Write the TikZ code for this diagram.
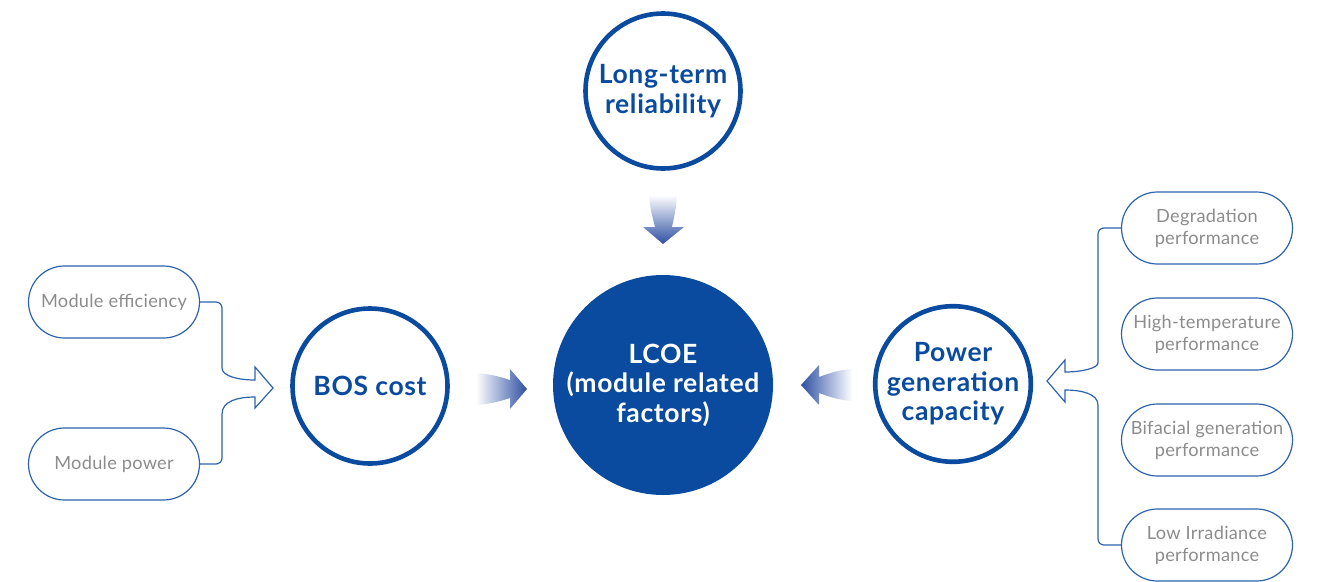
\documentclass[tikz,border=0pt]{standalone}
\usepackage{fontspec}
\setmainfont{Lato}
\newfontfamily\circfont{Lato}[LetterSpace=2.5]
\newfontfamily\pillfont{Lato}[LetterSpace=1.5]
\definecolor{mainblue}{HTML}{0A4A9F}
\definecolor{pillblue}{HTML}{2C62AE}
\definecolor{pilltext}{HTML}{8C8C8C}
\definecolor{arrowblue}{HTML}{2E4FA3}
\begin{document}
\begin{tikzpicture}[x=1pt,y=-1pt,
  bigcirc/.style={circle, draw=mainblue, line width=4.6pt, fill=white, minimum size=155pt, inner sep=0pt, align=center, text=mainblue, font=\circfont\bfseries\fontsize{26.5}{29.5}\selectfont},
  lcoestyle/.style={circle, fill=mainblue, minimum size=220pt, inner sep=0pt, align=center, text=white, font=\circfont\bfseries\fontsize{26.5}{29.5}\selectfont},
  pill/.style={draw=pillblue, line width=1.2pt, rounded corners=36pt, minimum width=171pt, minimum height=72pt, inner sep=0pt, align=center, text=pilltext, font=\pillfont\fontsize{18.2}{22}\selectfont},
  link/.style={draw=pillblue, line width=1.2pt, line join=miter},
  hshade/.style={left color=white, right color=arrowblue},
  hshadel/.style={left color=arrowblue, right color=white},
  vshade/.style={top color=white, bottom color=arrowblue}]
\useasboundingbox (0,0) rectangle (1322,581);

% main circles
\node[bigcirc] (ltr) at (663,91) {Long-term\\reliability};
\node[lcoestyle] (lcoe) at (663,385) {LCOE\\(module related\\factors)};
\node[bigcirc] (bos) at (370,386) {BOS cost};
\node[bigcirc] (pgc) at (953,384) {Power\\generation\\capacity};

% pills
\node[pill] (eff) at (114,302) {Module efficiency};
\node[pill] (pow) at (114,464) {Module power};
\node[pill] (deg) at (1207,228) {Degradation\\performance};
\node[pill] (ht) at (1207,334) {High-temperature\\performance};
\node[pill] (bif) at (1207,440) {Bifacial generation\\performance};
\node[pill] (low) at (1207,545) {Low Irradiance\\performance};

% left hollow arrow connectors
\draw[link] (eff.east) [rounded corners=6pt] -- (222,302) -- (222,362) [sharp corners]
  .. controls (222,376) and (238,380) .. (255,380) -- (255,367) -- (273,388) -- (255,408) -- (255,397)
  .. controls (238,397) and (222,401) .. (222,414) [rounded corners=6pt] -- (222,464) -- (pow.east);

% right hollow arrow connectors
\draw[link] (deg.west) [rounded corners=6pt] -- (1098,228) -- (1098,357) [sharp corners]
  .. controls (1098,368) and (1082,372) .. (1065,372) -- (1065,360) -- (1047,381) -- (1065,402) -- (1065,390)
  .. controls (1082,390) and (1098,394) .. (1098,405) [rounded corners=6pt] -- (1098,545) -- (low.west);

% gradient arrows
\shade[hshade] (476,373) .. controls (492,374) and (504,378) .. (510,380) -- (510,369) -- (527,389)
  -- (510,409) -- (510,398) .. controls (504,400) and (492,404) .. (476,405) -- cycle;
\shade[hshadel] (852,369) .. controls (836,370) and (825,375) .. (819,377) -- (819,365) -- (801,385)
  -- (819,405) -- (819,393) .. controls (825,395) and (836,400) .. (852,401) -- cycle;
\shade[vshade] (649,195) .. controls (650,211) and (654,222) .. (655,227) -- (643,227) -- (663,244)
  -- (684,227) -- (672,227) .. controls (673,222) and (676,211) .. (677,195) -- cycle;
\end{tikzpicture}
\end{document}
